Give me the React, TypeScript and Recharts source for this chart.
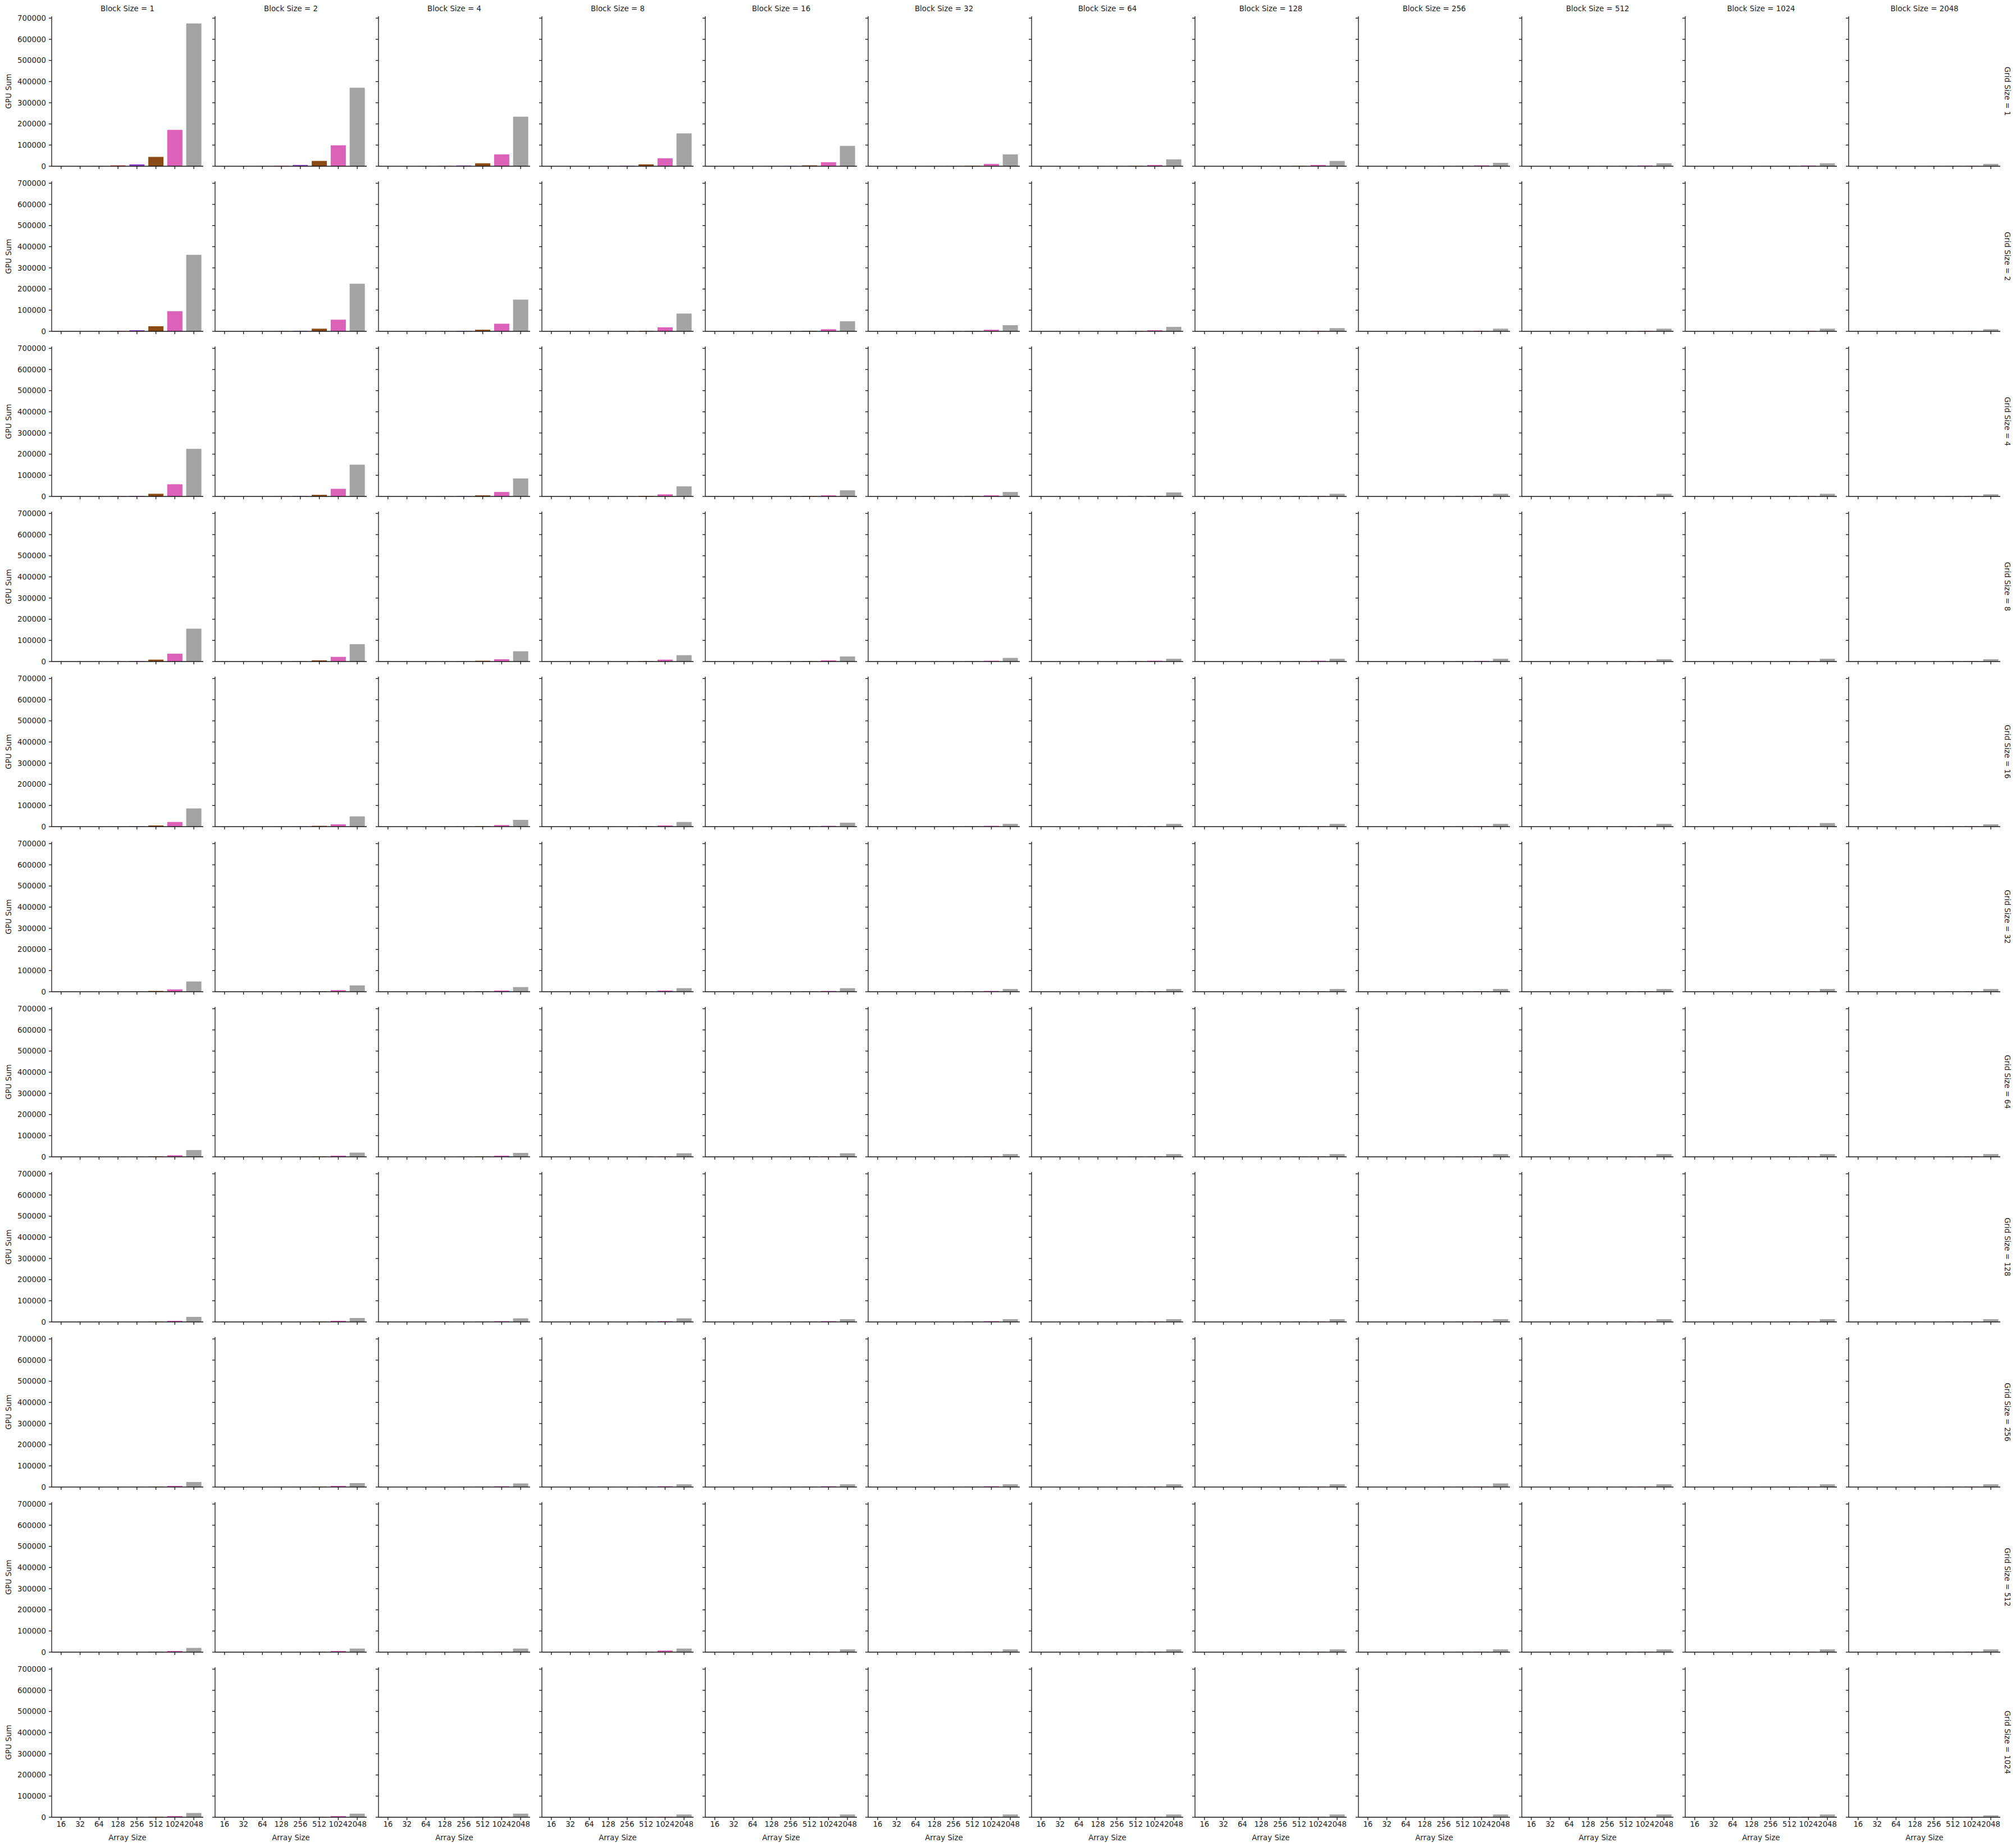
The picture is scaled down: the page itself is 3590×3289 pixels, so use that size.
import React from 'react';
import { BarChart, Bar, XAxis, YAxis, Cell } from 'recharts';

const ARRAY_SIZES = ['16', '32', '64', '128', '256', '512', '1024', '2048'];
const BLOCK_SIZES = [1, 2, 4, 8, 16, 32, 64, 128, 256, 512, 1024, 2048];
const GRID_SIZES = [1, 2, 4, 8, 16, 32, 64, 128, 256, 512, 1024];
const Y_TICKS = [0, 100000, 200000, 300000, 400000, 500000, 600000, 700000];
const COLORS = ['#224fdf', '#df7d20', '#30b346', '#cb1d25', '#8a42cb', '#8b4a14', '#dc61b8', '#a3a3a3'];

// GPU Sum per block size (columns), each list over array sizes 16..2048
const gridSize1 = [
  [60, 220, 850, 3700, 9000, 44000, 172000, 675000],
  [40, 130, 500, 1800, 6000, 25000, 99000, 371000],
  [30, 90, 330, 1100, 3500, 14000, 56000, 234000],
  [25, 70, 220, 700, 2300, 9000, 37500, 155000],
  [20, 50, 150, 450, 1300, 4000, 19000, 96000],
  [15, 40, 110, 300, 800, 2500, 11000, 56000],
  [15, 35, 90, 220, 600, 1800, 6000, 32500],
  [12, 30, 80, 200, 500, 1500, 6000, 25000],
  [12, 30, 70, 180, 450, 1200, 4000, 16000],
  [12, 28, 65, 170, 420, 1100, 3500, 14000],
  [12, 28, 65, 170, 420, 1100, 3500, 14000],
  [10, 25, 60, 150, 380, 900, 1500, 11000],
];
const gridSize2 = [
  [40, 130, 480, 1600, 5000, 24000, 95000, 362000],
  [30, 90, 320, 1000, 2500, 12500, 55000, 225000],
  [25, 70, 220, 700, 2000, 7500, 36000, 150000],
  [20, 50, 150, 450, 1200, 2500, 19000, 84000],
  [15, 40, 110, 300, 800, 2500, 10000, 47500],
  [15, 35, 90, 230, 600, 1800, 7500, 29000],
  [12, 30, 80, 200, 500, 1500, 5000, 21000],
  [12, 28, 70, 180, 450, 1200, 2500, 15000],
  [12, 28, 65, 170, 420, 1100, 2500, 12500],
  [12, 28, 65, 170, 420, 1100, 2500, 12500],
  [12, 28, 65, 170, 420, 1100, 2500, 12500],
  [10, 25, 60, 150, 380, 900, 1500, 10000],
];
const gridSize4 = [
  [30, 90, 320, 1000, 2500, 12500, 57500, 225000],
  [25, 70, 220, 700, 2000, 7500, 36000, 150000],
  [20, 50, 150, 450, 1300, 5000, 21000, 85000],
  [15, 40, 110, 300, 800, 2500, 10000, 47500],
  [15, 35, 90, 230, 600, 1800, 5000, 29000],
  [12, 30, 80, 200, 500, 1500, 5000, 21000],
  [12, 30, 75, 190, 480, 1300, 2500, 19000],
  [12, 28, 70, 180, 450, 1200, 2500, 12500],
  [12, 28, 70, 180, 450, 1200, 2500, 12500],
  [12, 28, 70, 180, 450, 1200, 2500, 12500],
  [12, 28, 65, 170, 420, 1100, 2000, 12500],
  [10, 25, 60, 150, 380, 900, 2000, 10000],
];
const gridSize8 = [
  [25, 70, 220, 700, 2200, 9000, 37000, 155000],
  [20, 50, 150, 450, 1400, 5500, 22000, 82000],
  [15, 40, 110, 300, 900, 3700, 11000, 48500],
  [15, 35, 90, 230, 600, 1800, 9000, 30000],
  [12, 30, 80, 200, 500, 1500, 5500, 24000],
  [12, 28, 70, 180, 450, 1200, 3700, 17000],
  [12, 28, 65, 170, 420, 1100, 3700, 13000],
  [12, 28, 65, 170, 420, 1100, 3700, 13000],
  [12, 28, 65, 170, 420, 1000, 3000, 13000],
  [10, 25, 60, 150, 380, 900, 2000, 11000],
  [12, 28, 65, 170, 420, 1000, 2000, 13000],
  [10, 25, 60, 150, 380, 900, 1800, 11000],
];
const gridSize16 = [
  [20, 50, 150, 450, 1400, 5500, 22000, 86000],
  [15, 40, 110, 300, 900, 3700, 11000, 48500],
  [15, 35, 90, 230, 600, 1800, 7500, 32000],
  [12, 30, 80, 200, 500, 1500, 5500, 22000],
  [12, 28, 70, 180, 450, 1200, 3700, 18600],
  [12, 28, 65, 170, 420, 1100, 3700, 13000],
  [12, 28, 65, 170, 420, 1000, 1800, 13000],
  [12, 28, 65, 170, 420, 1000, 1800, 13000],
  [12, 28, 65, 170, 420, 1000, 1800, 13000],
  [12, 28, 65, 170, 420, 1000, 1800, 13000],
  [12, 28, 65, 170, 420, 1000, 1800, 17000],
  [10, 25, 60, 150, 380, 900, 1800, 11000],
];
const gridSize32 = [
  [15, 40, 110, 300, 900, 3700, 11000, 48500],
  [15, 35, 90, 230, 600, 1800, 7500, 30000],
  [12, 30, 80, 200, 500, 1500, 5500, 22000],
  [12, 28, 70, 180, 450, 1200, 5500, 17000],
  [12, 28, 70, 180, 450, 1200, 3700, 17000],
  [12, 28, 65, 170, 420, 1100, 3700, 13000],
  [12, 28, 65, 170, 420, 1000, 1800, 13000],
  [12, 28, 65, 170, 420, 1000, 1800, 13000],
  [12, 28, 65, 170, 420, 1000, 1800, 13000],
  [12, 28, 65, 170, 420, 1000, 1800, 13000],
  [12, 28, 65, 170, 420, 1000, 1800, 13000],
  [12, 28, 65, 170, 420, 1000, 1800, 13000],
];
const gridSize64 = [
  [15, 35, 90, 230, 600, 2000, 7500, 32000],
  [12, 30, 80, 200, 500, 1500, 5500, 20000],
  [12, 30, 80, 200, 500, 1500, 5500, 18600],
  [12, 28, 70, 180, 450, 1200, 2000, 17000],
  [12, 28, 70, 180, 450, 1200, 2000, 17000],
  [12, 28, 65, 170, 420, 1100, 2000, 13000],
  [12, 28, 65, 170, 420, 1000, 1800, 13000],
  [12, 28, 65, 170, 420, 1000, 1800, 13000],
  [12, 28, 65, 170, 420, 1000, 1800, 13000],
  [12, 28, 65, 170, 420, 1000, 1800, 13000],
  [12, 28, 65, 170, 420, 1000, 1800, 13000],
  [12, 28, 65, 170, 420, 1000, 1800, 13000],
];
const gridSize128 = [
  [12, 30, 80, 200, 500, 1500, 5500, 24000],
  [12, 30, 80, 200, 500, 1500, 5500, 18600],
  [12, 28, 70, 180, 450, 1200, 3700, 17000],
  [12, 28, 70, 180, 450, 1200, 3700, 17000],
  [12, 28, 65, 170, 420, 1100, 3700, 13000],
  [12, 28, 65, 170, 420, 1100, 3700, 13000],
  [12, 28, 65, 170, 420, 1000, 1800, 13000],
  [12, 28, 65, 170, 420, 1000, 1800, 13000],
  [12, 28, 65, 170, 420, 1000, 1800, 13000],
  [12, 28, 65, 170, 420, 1000, 1800, 13000],
  [12, 28, 65, 170, 420, 1000, 1800, 13000],
  [12, 28, 65, 170, 420, 1000, 1800, 13000],
];
const gridSize256 = [
  [12, 30, 80, 200, 500, 1500, 5500, 24000],
  [12, 30, 80, 200, 500, 1500, 5500, 18600],
  [12, 28, 70, 180, 450, 1200, 3700, 17000],
  [12, 28, 65, 170, 420, 1100, 3700, 13000],
  [12, 28, 65, 170, 420, 1100, 3700, 13000],
  [12, 28, 65, 170, 420, 1100, 3700, 13000],
  [12, 28, 65, 170, 420, 1000, 1800, 13000],
  [12, 28, 65, 170, 420, 1000, 1800, 13000],
  [12, 28, 65, 170, 420, 1000, 1800, 17000],
  [12, 28, 65, 170, 420, 1000, 1800, 13000],
  [12, 28, 65, 170, 420, 1000, 1800, 13000],
  [12, 28, 65, 170, 420, 1000, 1800, 13000],
];
const gridSize512 = [
  [12, 30, 80, 200, 500, 1500, 5500, 20000],
  [12, 28, 70, 180, 450, 1200, 5500, 17000],
  [12, 28, 70, 180, 450, 1200, 2000, 17000],
  [12, 28, 70, 180, 450, 1200, 7500, 17000],
  [12, 28, 65, 170, 420, 1000, 2000, 13000],
  [12, 28, 65, 170, 420, 1000, 2000, 13000],
  [12, 28, 65, 170, 420, 1000, 1800, 13000],
  [12, 28, 65, 170, 420, 1000, 1800, 13000],
  [12, 28, 65, 170, 420, 1000, 1800, 13000],
  [12, 28, 65, 170, 420, 1000, 1800, 13000],
  [12, 28, 65, 170, 420, 1000, 1800, 13000],
  [12, 28, 65, 170, 420, 1000, 1800, 13000],
];
const gridSize1024 = [
  [12, 30, 80, 200, 500, 2000, 5500, 20000],
  [12, 28, 70, 180, 450, 1200, 5500, 17000],
  [12, 28, 70, 180, 450, 1200, 2000, 17000],
  [12, 28, 65, 170, 420, 1000, 1800, 13000],
  [12, 28, 65, 170, 420, 1000, 1800, 13000],
  [12, 28, 65, 170, 420, 1000, 1800, 13000],
  [12, 28, 65, 170, 420, 1000, 1800, 13000],
  [12, 28, 65, 170, 420, 1000, 1800, 13000],
  [12, 28, 65, 170, 420, 1000, 1800, 13000],
  [12, 28, 65, 170, 420, 1000, 1800, 13000],
  [12, 28, 65, 170, 420, 1000, 1800, 13000],
  [10, 25, 60, 150, 380, 900, 1500, 9000],
];

const ROWS = [gridSize1, gridSize2, gridSize4, gridSize8, gridSize16, gridSize32, gridSize64, gridSize128, gridSize256, gridSize512, gridSize1024];

const W = 3590;
const H = 3289;
const PLOT_W = 270;
const PLOT_H = 267;
const COL0 = 92;
const COL_PITCH = 290.88;
const ROW0 = 29;
const ROW_PITCH = 294;
const FONT = 'DejaVu Sans, sans-serif';
const FS = 13.33;
const INK = '#111111';
const LINE_W = 1.3;
const TOP_M = 5;

const EmptyTick = () => <g />;

function Panel({ r, c }: { r: number; c: number }) {
  const vals = ROWS[r][c];
  const data = ARRAY_SIZES.map((s, i) => ({ size: s, v: vals[i] }));
  const yW = c === 0 ? 84 : 10;
  const xH = r === GRID_SIZES.length - 1 ? 30 : 10;
  const left = Math.round(COL0 + c * COL_PITCH) - yW;
  const top = ROW0 + r * ROW_PITCH - TOP_M;
  const width = yW + PLOT_W + 2;
  const height = TOP_M + PLOT_H + xH;
  const tickStyle = { fontSize: FS, fontFamily: FONT, fill: '#222222' };
  return (
    <div style={{ position: 'absolute', left, top, width, height }}>
      <BarChart width={width} height={height} data={data} margin={{ top: TOP_M, right: 2, left: 0, bottom: 0 }} barCategoryGap="10%">
        <XAxis
          dataKey="size"
          type="category"
          interval={0}
          height={xH}
          tickSize={5}
          tickMargin={3}
          stroke={INK}
          padding={{ left: 0, right: 0 }}
          axisLine={{ stroke: INK, strokeWidth: LINE_W }}
          tickLine={{ stroke: INK, strokeWidth: LINE_W }}
          tick={r === GRID_SIZES.length - 1 ? tickStyle : <EmptyTick />}
        />
        <YAxis
          type="number"
          domain={[0, 708750]}
          ticks={Y_TICKS}
          interval={0}
          width={yW}
          tickSize={5}
          tickMargin={5}
          stroke={INK}
          axisLine={{ stroke: INK, strokeWidth: LINE_W }}
          tickLine={{ stroke: INK, strokeWidth: LINE_W }}
          tick={c === 0 ? tickStyle : <EmptyTick />}
        />
        <Bar dataKey="v" isAnimationActive={false}>
          {data.map((d, i) => (
            <Cell key={d.size} fill={COLORS[i]} />
          ))}
        </Bar>
      </BarChart>
    </div>
  );
}

export default function App() {
  const panels: React.ReactNode[] = [];
  GRID_SIZES.forEach((g, r) => {
    BLOCK_SIZES.forEach((b, c) => {
      panels.push(<Panel key={`${r}-${c}`} r={r} c={c} />);
    });
  });
  const lastBottom = ROW0 + (GRID_SIZES.length - 1) * ROW_PITCH + PLOT_H;
  return (
    <div style={{ position: 'absolute', left: 0, top: 0, width: W, height: H, background: '#fff', overflow: 'hidden' }}>
      {panels}
      <svg width={W} height={H} style={{ position: 'absolute', left: 0, top: 0, pointerEvents: 'none' }}>
        {BLOCK_SIZES.map((b, c) => {
          const cx = Math.round(COL0 + c * COL_PITCH) + PLOT_W / 2;
          return (
            <g key={`t${c}`}>
              <text x={cx} y={20} textAnchor="middle" fontFamily={FONT} fontSize={FS} fill="#222222">
                {`Block Size = ${b}`}
              </text>
              <text x={cx} y={lastBottom + 41} textAnchor="middle" fontFamily={FONT} fontSize={FS} fill="#222222">
                Array Size
              </text>
            </g>
          );
        })}
        {GRID_SIZES.map((g, r) => {
          const cy = ROW0 + r * ROW_PITCH + PLOT_H / 2;
          const rx = 3570;
          const lx = 20;
          return (
            <g key={`r${r}`}>
              <text x={rx} y={cy} transform={`rotate(90 ${rx} ${cy})`} textAnchor="middle" fontFamily={FONT} fontSize={FS} fill="#222222">
                {`Grid Size = ${g}`}
              </text>
              <text x={lx} y={cy} transform={`rotate(-90 ${lx} ${cy})`} textAnchor="middle" fontFamily={FONT} fontSize={FS} fill="#222222">
                GPU Sum
              </text>
            </g>
          );
        })}
      </svg>
    </div>
  );
}
